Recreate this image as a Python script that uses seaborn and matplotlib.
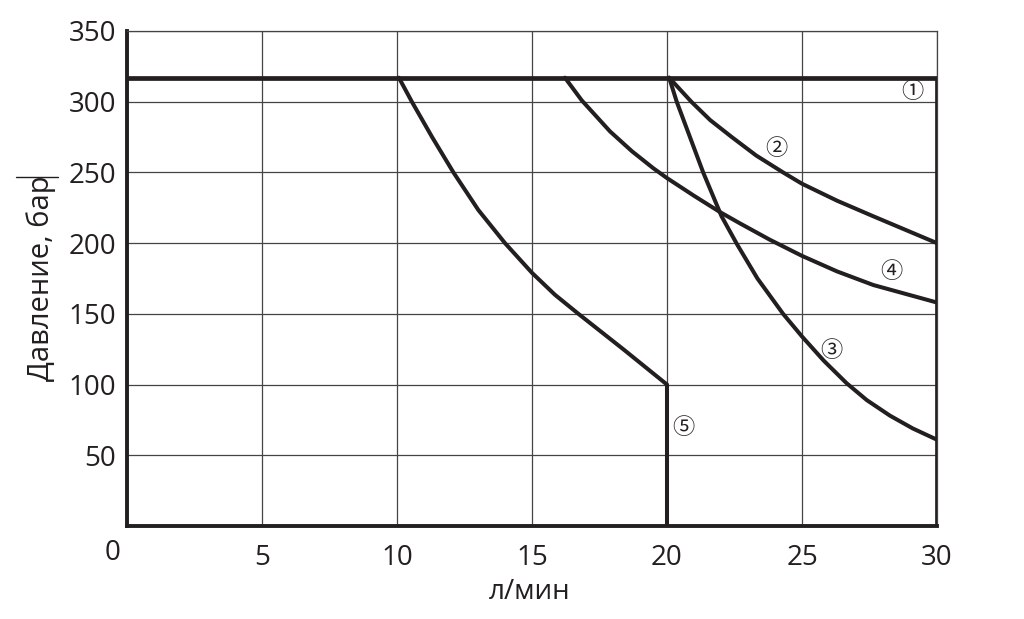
import matplotlib
matplotlib.use("Agg")
import matplotlib.pyplot as plt
from matplotlib.lines import Line2D
from matplotlib.transforms import ScaledTranslation
import pandas as pd
import seaborn as sns

# Flow (l/min) and pressure (bar)
flow_1 = [0, 30, 30]
pres_1 = [317, 317, 0]

flow_2 = [20.08, 20.9, 21.6, 22.4, 23.3, 24.3, 25.0, 26.3, 27.64, 30.0]
pres_2 = [317, 300, 287, 275, 262, 250, 242, 230, 219, 200]

flow_3 = [20.08, 20.36, 20.85, 21.34, 22.02, 22.6, 23.35, 24.3, 25.0, 25.8,
          26.65, 27.4, 28.26, 29.1, 30.0]
pres_3 = [317, 300, 275, 250, 219, 199, 175, 150, 134, 117,
          101, 89, 78, 69, 61]

flow_4 = [16.22, 16.84, 17.89, 18.7, 19.49, 20.0, 21.0, 21.96, 22.7, 23.8,
          25.0, 26.3, 27.64, 30.0]
pres_4 = [317, 301, 279, 265, 253, 246, 233.5, 222, 214, 202.5,
          191, 180, 170.4, 158]

flow_5 = [10.07, 10.55, 11.3, 12.09, 13.01, 14.0, 15.0, 15.85, 16.72, 17.55,
          18.38, 20.0, 20.0]
pres_5 = [317, 300, 275, 250, 223.5, 200, 179, 163.5, 150, 137.5,
          125, 100, 0]

curve_names = ["1", "2", "3", "4", "5"]
label_marks = ["①", "②", "③", "④", "⑤"]
label_x = [29.1, 24.05, 26.1, 28.3, 20.6]
label_y = [307, 267, 124, 180, 70]

x_ticks = [0, 5, 10, 15, 20, 25, 30]
y_ticks = [50, 100, 150, 200, 250, 300, 350]

curves = pd.concat([
    pd.DataFrame({"flow": f, "pressure": p, "curve": n})
    for f, p, n in zip([flow_1, flow_2, flow_3, flow_4, flow_5],
                       [pres_1, pres_2, pres_3, pres_4, pres_5],
                       curve_names)
])

sns.set_theme(style="whitegrid")
plt.rcParams["font.family"] = ["Open Sans", "DejaVu Sans"]
ink = "#231f20"

fig = plt.figure(figsize=(10.24, 6.19), dpi=100)
ax = fig.add_axes([127 / 1024, 1 - 526 / 619, 810 / 1024, 495 / 619])

for name in curve_names:
    sub = curves[curves["curve"] == name]
    sns.lineplot(data=sub, x="flow", y="pressure", sort=False, estimator=None,
                 color=ink, linewidth=3.4 if name == "1" else 2.9, ax=ax,
                 legend=False, solid_joinstyle="round", zorder=3)

for mark, lx, ly in zip(label_marks, label_x, label_y):
    ax.text(lx, ly, mark, fontsize=16, ha="center", va="center", color=ink,
            family=["Noto Sans CJK JP", "DejaVu Sans"], zorder=4)

ax.set_xlim(0, 30)
ax.set_ylim(0, 350)
ax.set_xticks(x_ticks)
ax.set_yticks([0] + y_ticks)
ax.set_yticklabels([""] + [str(v) for v in y_ticks])
ax.grid(True, color="#444444", linewidth=0.9)
ax.tick_params(axis="both", length=0, labelsize=20, colors=ink)
ax.tick_params(axis="x", pad=13)
ax.tick_params(axis="y", pad=8)

# the "0" sits down-left of the corner
zero = ax.get_xticklabels()[0]
zero.set_transform(zero.get_transform() + ScaledTranslation(-0.14, 0.05, fig.dpi_scale_trans))

for side in ["left", "bottom"]:
    ax.spines[side].set_color(ink)
    ax.spines[side].set_linewidth(2.8)
for side in ["top", "right"]:
    ax.spines[side].set_color("#444444")
    ax.spines[side].set_linewidth(0.9)

ax.set_xlabel("л/мин", fontsize=20, color=ink)
ax.set_ylabel("Давление, бар", fontsize=21, color=ink)
ax.xaxis.set_label_coords(0.497, -0.105)
ax.yaxis.set_label_coords(-0.088, 0.5)

# stray rule over the y label in the original
fig.add_artist(Line2D([16 / 1024, 58 / 1024], [1 - 177 / 619] * 2,
                      color=ink, linewidth=1.0))

fig.savefig("out.png", dpi=100, facecolor="white")
